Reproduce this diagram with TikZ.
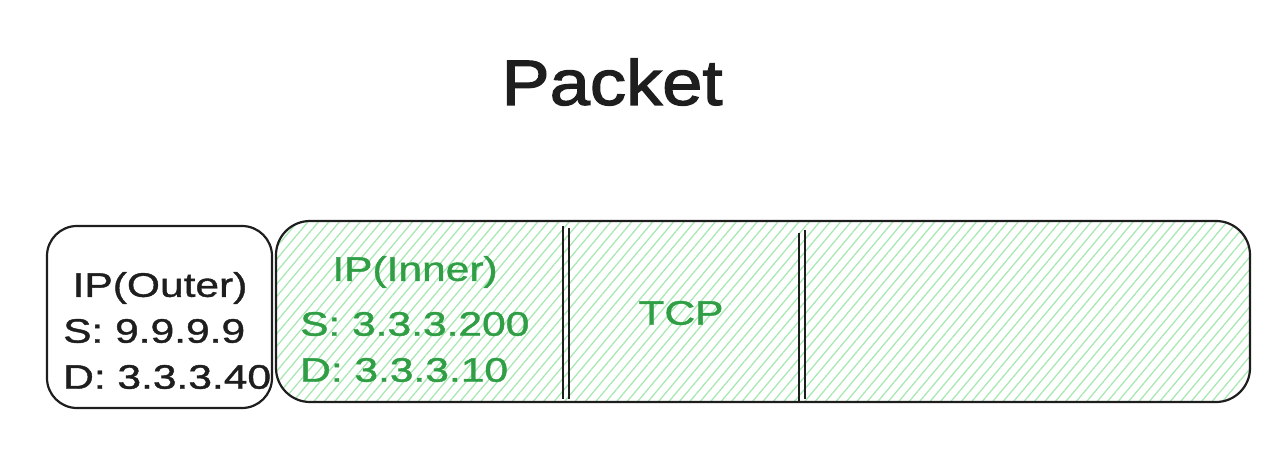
\documentclass[tikz,border=0pt]{standalone}
\usepackage{fontspec}
\setmainfont{Liberation Sans}
\newfontfamily\handfont{Liberation Sans}[FakeStretch=1.25,FakeBold=1.2]
\newfontfamily\titlefont{Liberation Sans}[FakeStretch=1.13,FakeBold=2]
\usetikzlibrary{patterns.meta}
\definecolor{ink}{HTML}{1E1E1E}
\definecolor{grn}{HTML}{2F9E44}
\definecolor{hatch}{HTML}{A8E8B2}
\tikzset{
  box/.style={draw=ink, line width=2.2pt, rounded corners=30pt},
  hatched/.style={pattern={Lines[angle=50,distance=8pt,line width=1.3pt]}, pattern color=hatch},
  divider/.style={draw=ink, line width=2pt},
  blk/.style={text=ink, font=\handfont\fontsize{34}{38}\selectfont, inner sep=0pt},
  grt/.style={text=grn, font=\handfont\fontsize{34}{38}\selectfont, inner sep=0pt},
}
\begin{document}
\begin{tikzpicture}[x=1pt,y=-1pt]
\useasboundingbox (0,0) rectangle (1272,452);
% title
\node[text=ink, font=\titlefont\fontsize{64}{70}\selectfont, inner sep=0pt] (title) at (612,82) {Packet};
% outer IP box
\path[box] (47,226) rectangle (272,408);
\node[blk] (outer) at (160,288) {IP(Outer)};
\node[blk, anchor=west] (os) at (63,331) {S: 9.9.9.9};
\node[blk, anchor=west] (od) at (63,377) {D: 3.3.3.40};
% big packet body
\path[box, hatched, rounded corners=34pt] (276,221) rectangle (1250,402);
\draw[divider] (563,226) -- (563,399);
\draw[divider] (569,228) -- (569,399);
\draw[divider] (799,233) -- (799,401);
\draw[divider] (805,230) -- (805,399);
\node[grt] (inner) at (415,272) {IP(Inner)};
\node[grt, anchor=west] (is) at (300,324) {S: 3.3.3.200};
\node[grt, anchor=west] (id) at (300,370) {D: 3.3.3.10};
\node[grt] (tcp) at (681,313) {TCP};
\end{tikzpicture}
\end{document}
